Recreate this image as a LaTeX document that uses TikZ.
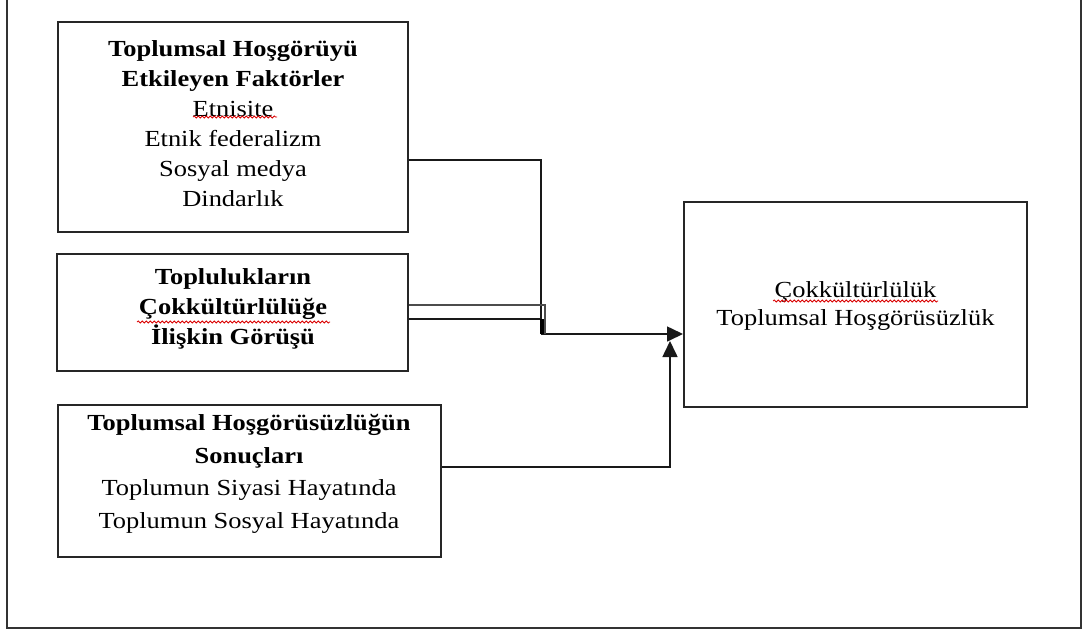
\documentclass[tikz,border=0pt]{standalone}
\usepackage{fontspec}
\setmainfont{Liberation Serif}[FakeStretch=1.15]
\usetikzlibrary{arrows.meta,decorations.pathmorphing}
\tikzset{
  box/.style={draw=black!85, line width=2pt, rectangle, inner sep=0pt},
  txt/.style={align=center, inner sep=0pt, font=\fontsize{23}{30}\selectfont},
  conn/.style={draw=black!90, line width=1.6pt},
  arr/.style={-{Triangle[length=16pt,width=15pt]}},
  spell/.style={draw=red!85!black, line width=0.8pt, decorate, decoration={snake, amplitude=1pt, segment length=4pt}}
}
\begin{document}
\begin{tikzpicture}[x=1pt,y=-1pt]
\useasboundingbox (0,0) rectangle (1086,633);
% outer frame (open at top)
\draw[black!80, line width=1.6pt] (7,0) -- (7,628) -- (1081,628) -- (1081,0);

% boxes
\node[box, minimum width=350pt, minimum height=210pt] (b1) at (233,127) {};
\node[box, minimum width=351pt, minimum height=117pt] (b2) at (232.5,312.5) {};
\node[box, minimum width=383pt, minimum height=152pt] (b3) at (249.5,481) {};
\node[box, minimum width=343pt, minimum height=205pt] (b4) at (855.5,304.5) {};

% texts
\node[txt] (t1) at (233,124) {\textbf{Toplumsal Hoşgörüyü}\\\textbf{Etkileyen Faktörler}\\Etnisite\\Etnik federalizm\\Sosyal medya\\Dindarlık};
\node[txt] (t2) at (233,309) {\textbf{Toplulukların}\\\textbf{Çokkültürlülüğe}\\\textbf{İlişkin Görüşü}};
\node[txt, font=\fontsize{23}{32.5}\selectfont] (t3) at (249,474) {\textbf{Toplumsal Hoşgörüsüzlüğün}\\\textbf{Sonuçları}\\Toplumun Siyasi Hayatında\\Toplumun Sosyal Hayatında};
\node[txt, font=\fontsize{23}{28}\selectfont] (t4) at (855.5,306) {Çokkültürlülük\\Toplumsal Hoşgörüsüzlük};

% spell-check underlines
\coordinate (s1a) at (193,117); \coordinate (s1b) at (277,117);
\draw[spell] (s1a) -- (s1b);
\coordinate (s2a) at (137,322); \coordinate (s2b) at (330,322);
\draw[spell] (s2a) -- (s2b);
\coordinate (s4a) at (773,301); \coordinate (s4b) at (938,301);
\draw[spell] (s4a) -- (s4b);

% junction coordinates
\coordinate (j1) at (541,160);
\coordinate (j2) at (541,334);
\coordinate (d1) at (545,305);
\coordinate (d2) at (545,334);
\coordinate (d3) at (541,319);
\coordinate (k1) at (670,467);
\coordinate (k2) at (670,341);

% connector from box 1
\draw[conn] (b1.east |- j1) -- (j1) -- (j2);
\draw[conn, arr] (j2) -- (b4.west |- j2);
% double connector from box 2
\draw[conn, black!70] (b2.east |- d1) -- (d1) -- (d2);
\draw[conn] (b2.east |- d3) -- (d3);
\fill[black] (539.5,319) rectangle (543.5,334);
% connector from box 3
\draw[conn, arr] (b3.east |- k1) -- (k1) -- (k2);
\end{tikzpicture}
\end{document}
